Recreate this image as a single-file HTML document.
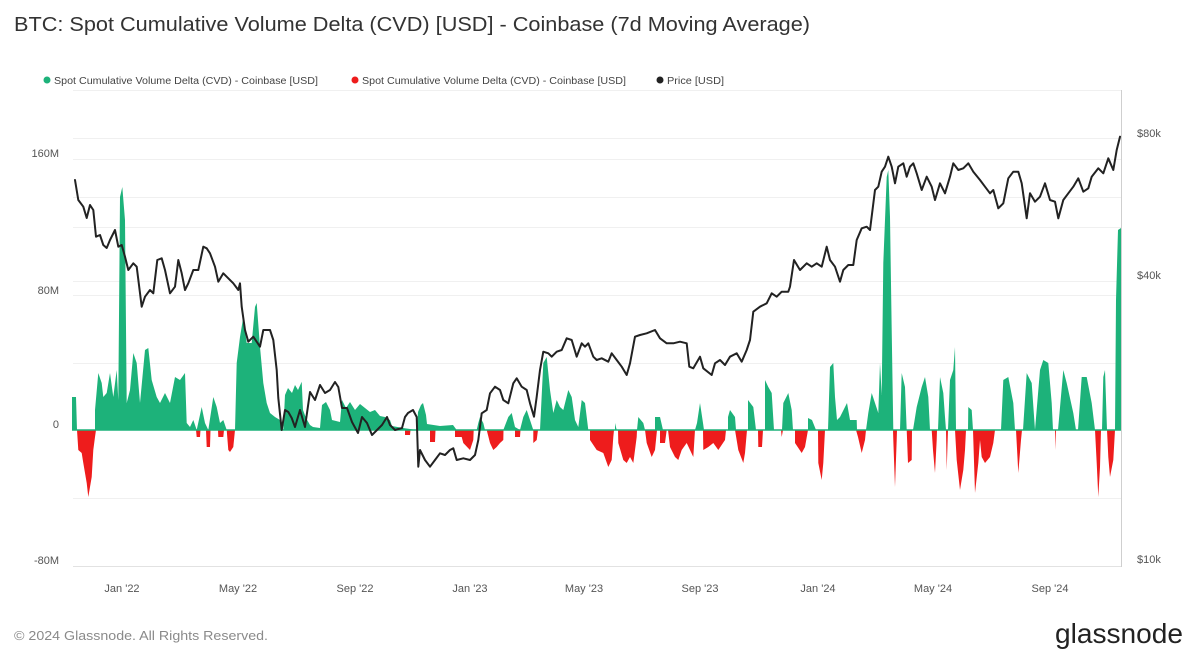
<!DOCTYPE html>
<html><head><meta charset="utf-8"><style>
html,body{margin:0;padding:0;background:#fff;}
svg{display:block;}
text{font-family:"Liberation Sans",Arial,sans-serif;}
</style></head><body>
<svg width="1200" height="657" viewBox="0 0 1200 657" xmlns="http://www.w3.org/2000/svg">
<rect width="1200" height="657" fill="#fff"/>
<text x="14" y="31" font-size="20" fill="#333" textLength="796" lengthAdjust="spacingAndGlyphs">BTC: Spot Cumulative Volume Delta (CVD) [USD] - Coinbase (7d Moving Average)</text>
<!-- legend -->
<circle cx="47" cy="80" r="3.5" fill="#1db27a"/>
<text x="54" y="84" font-size="10" fill="#444" textLength="264" lengthAdjust="spacingAndGlyphs">Spot Cumulative Volume Delta (CVD) - Coinbase [USD]</text>
<circle cx="355" cy="80" r="3.5" fill="#ee1c1c"/>
<text x="362" y="84" font-size="10" fill="#444" textLength="264" lengthAdjust="spacingAndGlyphs">Spot Cumulative Volume Delta (CVD) - Coinbase [USD]</text>
<circle cx="660" cy="80" r="3.5" fill="#222"/>
<text x="667" y="84" font-size="10" fill="#444" textLength="57" lengthAdjust="spacingAndGlyphs">Price [USD]</text>
<!-- grid -->
<g stroke="#f0f0f0" stroke-width="1">
<line x1="73" y1="90.5" x2="1121" y2="90.5"/>
<line x1="73" y1="138.5" x2="1121" y2="138.5"/>
<line x1="73" y1="159.5" x2="1121" y2="159.5"/>
<line x1="73" y1="197.5" x2="1121" y2="197.5"/>
<line x1="73" y1="227.5" x2="1121" y2="227.5"/>
<line x1="73" y1="281.5" x2="1121" y2="281.5"/>
<line x1="73" y1="295.5" x2="1121" y2="295.5"/>
<line x1="73" y1="363.5" x2="1121" y2="363.5"/>
<line x1="73" y1="498.5" x2="1121" y2="498.5"/>
</g>
<line x1="73" y1="566.5" x2="1121" y2="566.5" stroke="#e2e2e2" stroke-width="1"/>
<line x1="1121.5" y1="90" x2="1121.5" y2="567" stroke="#cfcfcf" stroke-width="1"/>
<!-- axis labels -->
<g font-size="11" fill="#555" text-anchor="end">
<text x="59" y="157">160M</text>
<text x="59" y="294">80M</text>
<text x="59" y="428">0</text>
<text x="59" y="564">-80M</text>
</g>
<g font-size="11" fill="#555">
<text x="1137" y="137">$80k</text>
<text x="1137" y="279">$40k</text>
<text x="1137" y="563">$10k</text>
</g>
<g font-size="11" fill="#555" text-anchor="middle">
<text x="122" y="592">Jan '22</text>
<text x="238" y="592">May '22</text>
<text x="355" y="592">Sep '22</text>
<text x="470" y="592">Jan '23</text>
<text x="584" y="592">May '23</text>
<text x="700" y="592">Sep '23</text>
<text x="818" y="592">Jan '24</text>
<text x="933" y="592">May '24</text>
<text x="1050" y="592">Sep '24</text>
</g>
<!-- green bars -->
<polygon fill="#1db27a" points="72,430 72,397 76,397 77,430 95,430 95,410 98.3,373 101.7,383 103.3,397 106.7,393 110,373 113.3,397 116.7,370 118.3,400 120,197 122.3,187 125,220 126.7,403 130,390 133.3,353 136.7,363 140,403 145,350 148.3,348 151.7,380 156.7,397 160,403 165,393 170,403 175,377 180,380 185,373 186.7,423 190,427 193.3,420 196.7,430 201.7,407 205,423 208.3,430 213.3,397 216.7,407 220,423 223.3,420 226.7,430 235,430 236.7,363 240,337 243.3,317 246.7,343 251.7,343 255,307 256.7,303 260,347 263.3,383 266.7,403 270,413 275,417 280,420 283.3,430 285,395 288,388 292,393 295,385 298,390 301.7,381.7 303,410 306,418 310,425 313,427 320,428 322,405 326,402 330,410 332,420 340,422 342,400 346,408 350,402 355,410 360,404 365,408 370,412 375,410 380,416 385,417 390,420 392,426 403,428 417,430 418,412 421,405 423,403 426,415 427,424 440,426 453,425 456.7,430 476.7,430 478.3,423 480,417 483.3,423 485,430 503.3,430 508.3,417 511.7,413 515,427 520,430 523.3,417 526.7,410 530,420 533.3,430 540,430 543.3,363 546.7,357 550,390 553.3,413 556.7,400 560,407 563.3,410 568.3,390 571.7,397 575,420 578.3,427 581.7,400 585,403 588.3,430 615,430 615,423 616.7,430 637,430 638.3,417 643.3,423 645,430 655,430 655,417 660,417 663,430 695,430 697,423 700,403 703,423 704,430 728,430 728,417 730,410 735,417 736,430 748,430 748,400 753.3,407 756,430 765,430 765,380 768.3,387 771.7,393 774,430 782,430 783.3,403 788.3,393 791.7,410 793,430 808,430 808,418 812,420 816,430 828,430 830,367 833.3,363 835,397 837,420 840,417 847,403 850,420 856.7,420 857,430 866,430 868.3,413 871.7,393 875,403 878.3,413 880,363 881.7,395 883.3,263 886.7,177 888.3,170 890,217 891.7,330 893.3,430 900,430 901.7,373 905,387 906.7,430 913,430 916.7,407 921.7,387 925,377 928.3,397 930,430 938,430 940,377 943.3,393 945,417 946,430 948,430 950,380 953.3,370 955,347 956,430 968,430 968.3,407 971.7,410 973,430 1001,430 1003.3,380 1008.3,377 1013.3,403 1015,430 1023,430 1026.7,373 1031.7,383 1035,430 1040,370 1043.3,360 1048.3,363 1051.7,403 1053,430 1058,430 1063.3,370 1066.7,383 1073.3,413 1076,430 1078,430 1081.7,377 1086.7,377 1091.7,403 1095,430 1102,430 1103.3,377 1105,370 1107,430 1115,430 1116,300 1118,230 1121,228 1121,430"/>
<!-- red bars -->
<polygon fill="#ee1c1c" points="72,430 77,430 78.3,450 81.7,453 83.3,463 86.7,483 88.3,497 90,487 91.7,477 93.3,450 95,437 96,430 196,430 196.7,437 200,437 200.5,430 206,430 206.7,447 210,447 210.5,430 218,430 218.3,437 223.3,437 224,430 226.7,430 228.3,450 230,452 233.3,447 235,430 405,430 405,435 410,435 410.5,430 430,430 430,442 435,442 435.5,430 455,430 455,437 461.7,437 463.3,443 470,450 473.3,440 473.7,430 486.7,430 490,443 493.3,450 496.7,447 500,443 503.3,440 503.5,430 515,430 515,437 520,437 520.5,430 533.3,430 533.3,443 536.7,440 538,430 590,430 590,440 596.7,450 603.3,453 608.3,467 611.7,460 613.3,437 614,430 618,430 618.3,443 623.3,460 626.7,463 630,457 633.3,463 636.7,437 637,430 645,430 646.7,443 651.7,457 655,450 657,430 660,430 660,443 665,443 666.7,430 668,430 670,447 675,457 678.3,460 681.7,450 686.7,443 690,450 693.3,457 695,430 703,430 703.3,450 708.3,447 713.3,443 718.3,450 725,440 726,430 735,430 738.3,450 743.3,463 745,453 747,430 758,430 758.3,447 762,447 763,430 781,430 781.7,437 783,430 795,430 795,443 801.7,453 805,447 808,430 818,430 818.3,463 821.7,480 823.3,463 825,430 856,430 858,437 861.7,453 865,440 866,430 893,430 893.3,440 895,487 896.7,440 897,430 906.7,430 908,463 911.7,460 912,430 931.7,430 933,450 935,473 936.7,440 937,430 946,430 946.7,470 948,430 955,430 956.7,460 960,490 963.3,470 965,450 966,430 973,430 975,493 978.3,463 980,440 981.7,457 985,463 990,457 993.3,443 995,430 1016,430 1018.3,473 1021,440 1022,430 1055,430 1055,450 1056,430 1095,430 1096.7,463 1098.3,497 1100,467 1101,430 1107,430 1108.3,457 1110,477 1113.3,460 1115,430 1121,430"/>
<line x1="72" y1="430" x2="1121" y2="430" stroke="#1db27a" stroke-width="1.5"/>
<!-- price -->
<polyline fill="none" stroke="#222" stroke-width="2" stroke-linejoin="round" stroke-linecap="round" points="75,180 78.3,200 83.3,206.7 86.7,218 90,205 93.3,210 96,236.7 100,235 103.3,245 106.7,248 110,240 115,230 118.3,246.7 121.7,245 125,256.7 128.3,270 133.3,263.3 136.7,266.7 141.7,306.7 145,296.7 150,290 153.3,293.3 157.3,260 161.7,258.3 165,270 170,293.3 175,286.7 178.3,260 181.7,273.3 185,290 188.3,283.3 193.3,270 198.3,270 203.3,246.7 206.7,248.3 210,253.3 215,266.7 218.3,281.7 223.3,273.3 228.3,278.3 233.3,283.3 238.3,290 240,283.3 241.7,306.7 245,330 248.3,341.7 253.3,336.7 260,346.7 263.3,330 270,330 273.3,340 276.7,370 278.3,398 281.7,430 285,410 288.3,412 291.7,418 295,427 300,410 305,427 310,392 315,400 320,385 325,393 330,390 335,382 338.3,387 342,408 347,408 352,422 358,433 362,417 367,423 372,435 377,430 382,425 387,417 390,425 395,430 402,428 405,417 408,413 413,410 416.7,417 418.3,466.7 420,450 425,460 430,466.7 435,460 440,453.3 445,455 450,450 453.3,448.3 456.7,460 463.3,458.3 470,460 475,455 478.3,440 481.7,413.3 486.7,410 490,393.3 495,386.7 500,390 503.3,400 508.3,403.3 513.3,383.3 516.7,378.3 521.7,386.7 526.7,390 530,403.3 534,416.7 536.7,396.7 540,370 543.3,351.7 548.3,353.3 551.7,356.7 556.7,351.7 561.7,350 566.7,338.3 571.7,340 576.7,356.7 581.7,343.3 585,346.7 588.3,343.3 593.3,356.7 596.7,360 601.7,358.3 608.3,361.7 611.7,353.3 616.7,360 621.7,366.7 626.7,375 630,363.3 635,336.7 640,335 646.7,333.3 655,330 660,338.3 666.7,343.3 673.3,343.3 680,341.7 686.7,343.3 689.3,366.7 693.3,368.3 700,356.7 703.3,368.3 711.7,375 715,363.3 720,360 725,365 730,356.7 736.7,353.3 741.7,361.7 746.7,350 750,340 753.3,311.7 760,306.7 766.7,303.3 771.7,293.3 776.7,296.7 781.7,291.7 788.3,291.7 790,286.7 794,260 800,270 806.7,263.3 811.7,266.7 816.7,263.3 821.7,266.7 826.7,246.7 830,260 835,266.7 840,281.7 843.3,270 848.3,265 853.3,265 856.7,240 861.7,228.3 866.7,226.7 870,230 875,190 878.3,186.7 881.7,171.7 885,166.7 888.3,156.7 891.7,166.7 895,183.3 898.3,166.7 903.3,163.3 906.7,176.7 910,166.7 913.3,163.3 916.7,173.3 921.7,190 926.7,176.7 931.7,186.7 935,200 940,183.3 945,193.3 950,176.7 953.3,163.3 958.3,170 963.3,168.3 968.3,163.3 973.3,171.7 980,180 985,186.7 990,193.3 993.3,190 998.3,208.3 1003.3,203.3 1008.3,178.3 1013.3,171.7 1018.3,171.7 1021.7,183.3 1026.7,218.3 1030,193.3 1035,201.7 1040,196.7 1045,183.3 1050,200 1055,201.7 1058.3,218.3 1063.3,200 1068.3,193.3 1073.3,186.7 1078.3,178.3 1083.3,191.7 1088.3,188.3 1091.7,176.7 1098.3,168.3 1103.3,173.3 1108.3,158.3 1113.3,170 1116.7,150 1120,136.7"/>
<!-- footer -->
<text x="14" y="640" font-size="13" fill="#8a8a8a" textLength="254" lengthAdjust="spacingAndGlyphs">© 2024 Glassnode. All Rights Reserved.</text>
<text x="1055" y="643" font-size="28" fill="#222" textLength="128" lengthAdjust="spacingAndGlyphs">glassnode</text>
</svg>
</body></html>
